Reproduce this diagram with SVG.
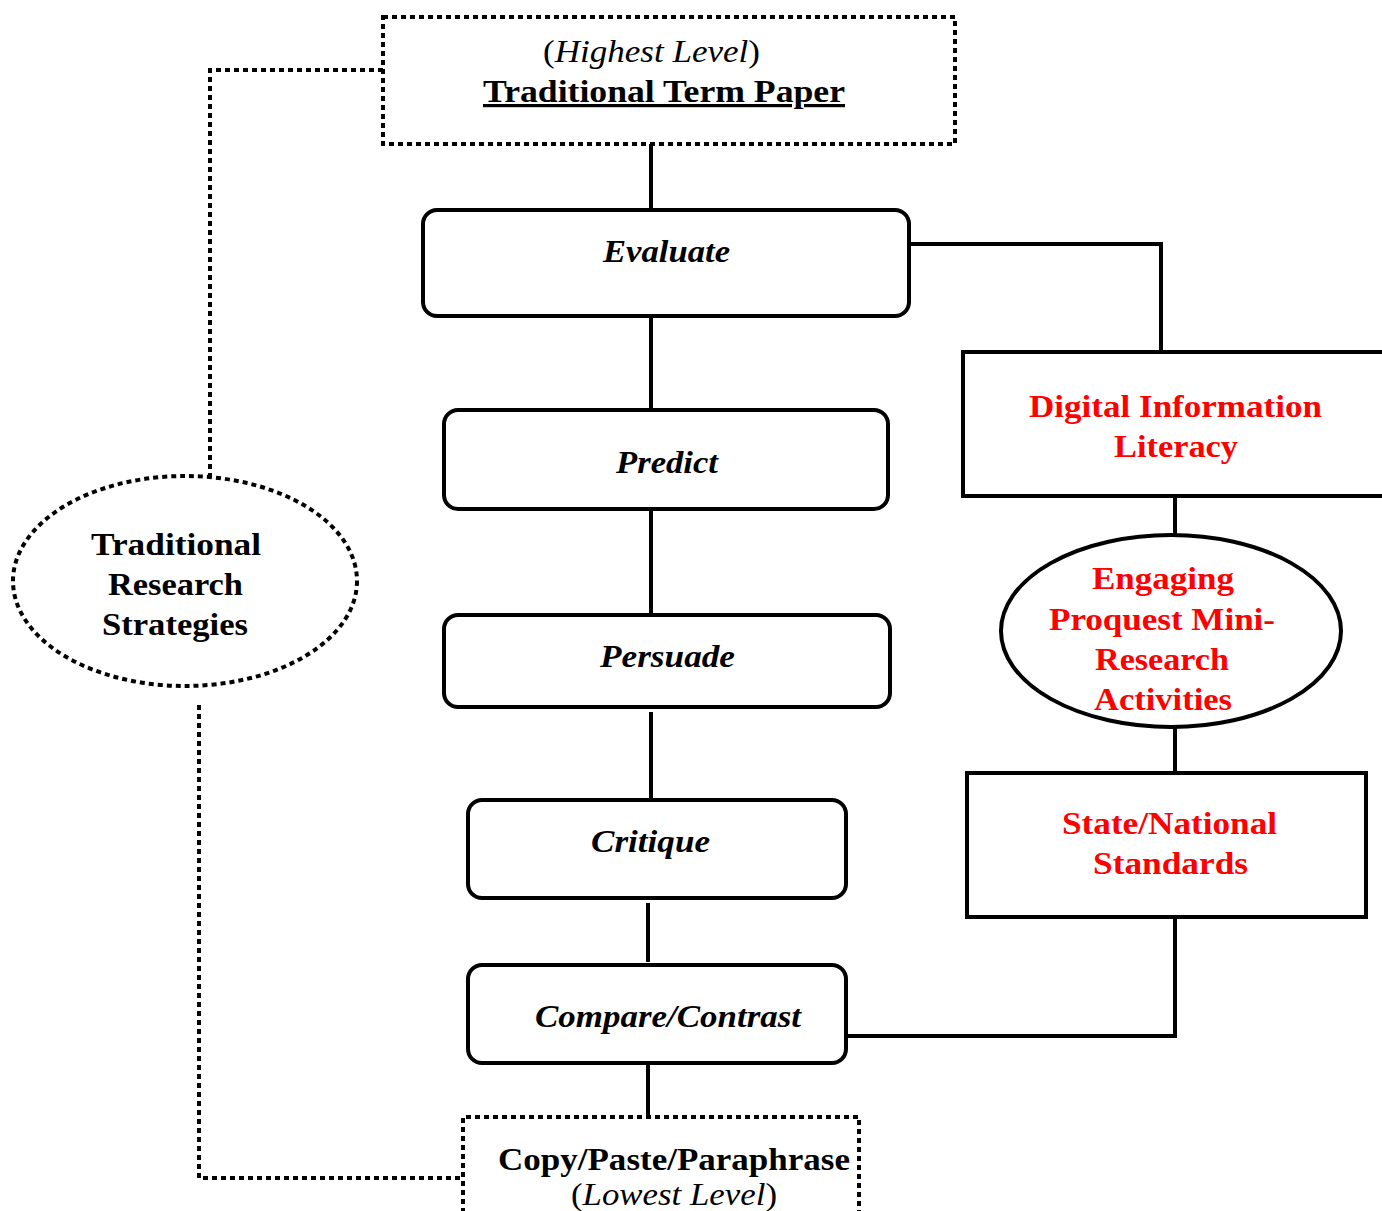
<svg xmlns="http://www.w3.org/2000/svg" width="1382" height="1211" viewBox="0 0 1382 1211">
<style>
.box{fill:#fff;stroke:#000;stroke-width:4}
.dot{fill:none;stroke:#000;stroke-width:4;stroke-dasharray:5 4}
.ln{fill:none;stroke:#000;stroke-width:4}
text{font-family:"Liberation Serif","Times New Roman",serif;text-anchor:middle}
.bi{font-weight:bold;font-style:italic;font-size:32px}
.b{font-weight:bold;font-size:32px}
.red{fill:#ff0000;font-weight:bold;font-size:32px}
.it{font-size:31px}
</style>
<rect width="1382" height="1211" fill="#fff"/>
<g id="connectors">
<path class="ln" d="M651 144V210"/>
<path class="ln" d="M651 316V420"/>
<path class="ln" d="M651 509V617"/>
<path class="ln" d="M651 712V800"/>
<path class="ln" d="M648 903V962"/>
<path class="ln" d="M648 1063V1117"/>
<path class="ln" d="M909 244H1161V352"/>
<path class="ln" d="M1175 496V536"/>
<path class="ln" d="M1175 727V773"/>
<path class="ln" d="M1175 913V1036H846"/>
<path class="dot" d="M383 70H210V476"/>
<path class="dot" d="M199 705V1178H463"/>
</g>
<g id="top">
<rect class="dot" x="383" y="17" width="572" height="127"/>
<text x="651.5" y="62" class="it" textLength="217" lengthAdjust="spacingAndGlyphs">(<tspan font-style="italic">Highest Level</tspan>)</text>
<text x="664" y="102" class="b" text-decoration="underline" textLength="362" lengthAdjust="spacingAndGlyphs">Traditional Term Paper</text>
</g>
<g id="evaluate">
<rect class="box" x="423" y="210" width="486" height="106" rx="14"/>
<text x="666.5" y="262" class="bi" textLength="127" lengthAdjust="spacingAndGlyphs">Evaluate</text>
</g>
<g id="predict">
<rect class="box" x="444" y="410" width="444" height="99" rx="14"/>
<text x="667" y="473" class="bi" textLength="102" lengthAdjust="spacingAndGlyphs">Predict</text>
</g>
<g id="persuade">
<rect class="box" x="444" y="615" width="446" height="92" rx="14"/>
<text x="667.5" y="667" class="bi" textLength="135" lengthAdjust="spacingAndGlyphs">Persuade</text>
</g>
<g id="critique">
<rect class="box" x="468" y="800" width="378" height="98" rx="14"/>
<text x="650.5" y="852" class="bi" textLength="119" lengthAdjust="spacingAndGlyphs">Critique</text>
</g>
<g id="compare">
<rect class="box" x="468" y="965" width="378" height="98" rx="14"/>
<text x="668" y="1027" class="bi" textLength="266" lengthAdjust="spacingAndGlyphs">Compare/Contrast</text>
</g>
<g id="bottom">
<path class="dot" d="M463 1213V1117H859V1213"/>
<text x="674" y="1170" class="b" textLength="352" lengthAdjust="spacingAndGlyphs">Copy/Paste/Paraphrase</text>
<text x="674" y="1205" class="it" textLength="206" lengthAdjust="spacingAndGlyphs">(<tspan font-style="italic">Lowest Level</tspan>)</text>
</g>
<g id="traditional">
<ellipse class="dot" cx="185" cy="581" rx="172" ry="105"/>
<text x="176" y="555" class="b" textLength="170" lengthAdjust="spacingAndGlyphs">Traditional</text>
<text x="175.5" y="595" class="b" textLength="135" lengthAdjust="spacingAndGlyphs">Research</text>
<text x="175" y="635" class="b" textLength="146" lengthAdjust="spacingAndGlyphs">Strategies</text>
</g>
<g id="digital">
<rect class="box" x="963" y="352" width="430" height="144"/>
<text x="1175.5" y="417" class="red" textLength="293" lengthAdjust="spacingAndGlyphs">Digital Information</text>
<text x="1176" y="457" class="red" textLength="124" lengthAdjust="spacingAndGlyphs">Literacy</text>
</g>
<g id="engaging">
<ellipse class="box" cx="1171" cy="631" rx="170" ry="96"/>
<text x="1163" y="589" class="red" textLength="142" lengthAdjust="spacingAndGlyphs">Engaging</text>
<text x="1162" y="630" class="red" textLength="226" lengthAdjust="spacingAndGlyphs">Proquest Mini-</text>
<text x="1162" y="670" class="red" textLength="134" lengthAdjust="spacingAndGlyphs">Research</text>
<text x="1163" y="710" class="red" textLength="138" lengthAdjust="spacingAndGlyphs">Activities</text>
</g>
<g id="standards">
<rect class="box" x="967" y="773" width="399" height="144"/>
<text x="1169.5" y="834" class="red" textLength="215" lengthAdjust="spacingAndGlyphs">State/National</text>
<text x="1170.5" y="874" class="red" textLength="155" lengthAdjust="spacingAndGlyphs">Standards</text>
</g>
</svg>
